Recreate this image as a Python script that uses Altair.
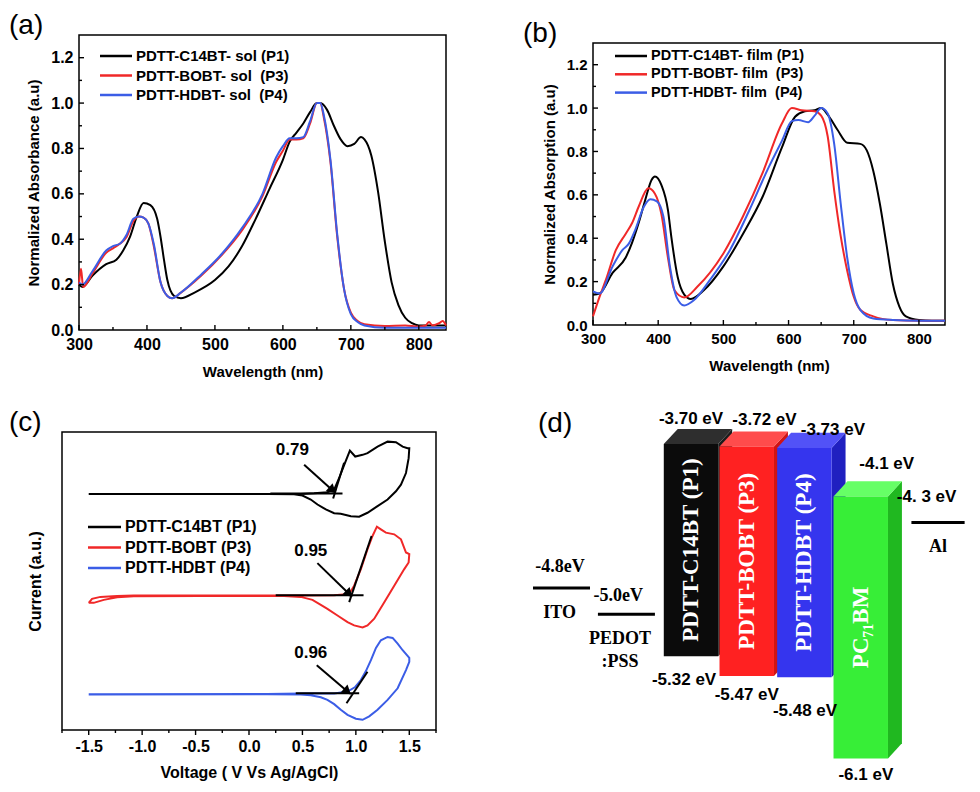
import math
import altair as alt
import pandas as pd

SANS = "Liberation Sans"
SERIF = "Liberation Serif"
LINE_COLORS = ["#000000", "#f02828", "#3b5de6"]

# ---------------- (a) solution spectra ----------------
a_names = ["PDTT-C14BT- sol (P1)", "PDTT-BOBT- sol\u00a0 (P3)", "PDTT-HDBT- sol\u00a0 (P4)"]
a_p1_wl = [300, 305, 320, 340, 355, 365, 375, 385, 395, 405, 415, 420, 425, 430, 440, 450, 470, 500, 520, 540,
           560, 580, 600, 610, 620, 630, 640, 650, 655, 665, 675, 685, 695, 705, 715, 720, 730, 740, 750, 760,
           770, 780, 790, 800, 820, 840]
a_p1_val = [0.20, 0.19, 0.24, 0.29, 0.31, 0.35, 0.41, 0.50, 0.56, 0.55, 0.49, 0.41, 0.31, 0.22, 0.15, 0.14, 0.165, 0.22, 0.28, 0.37,
            0.49, 0.62, 0.75, 0.83, 0.87, 0.91, 0.96, 1.00, 1.00, 0.97, 0.90, 0.84, 0.81, 0.82, 0.85, 0.84, 0.77, 0.61, 0.39, 0.21,
            0.11, 0.054, 0.03, 0.02, 0.02, 0.02]
a_p3_wl = [300, 303, 306, 320, 340, 350, 360, 370, 380, 388, 395, 402, 410, 420, 430, 437, 450, 480, 510, 540,
           570, 590, 600, 610, 620, 630, 640, 650, 655, 660, 670, 680, 690, 700, 710, 720, 750, 780, 800, 810,
           815, 820, 830, 835, 840]
a_p3_val = [0.20, 0.27, 0.19, 0.25, 0.34, 0.36, 0.38, 0.41, 0.48, 0.50, 0.495, 0.47, 0.37, 0.21, 0.15, 0.14, 0.165, 0.24, 0.33, 0.44,
            0.59, 0.74, 0.79, 0.84, 0.84, 0.845, 0.91, 1.00, 1.00, 0.94, 0.74, 0.41, 0.18, 0.076, 0.04, 0.025, 0.018, 0.02, 0.015, 0.02,
            0.035, 0.02, 0.03, 0.04, 0.02]
a_p4_wl = [300, 305, 320, 340, 350, 360, 370, 380, 388, 395, 402, 410, 420, 430, 437, 450, 480, 510, 540, 570,
           590, 600, 610, 620, 630, 640, 650, 655, 660, 670, 680, 690, 700, 710, 720, 750, 800, 840]
a_p4_val = [0.21, 0.20, 0.26, 0.35, 0.37, 0.38, 0.42, 0.49, 0.50, 0.495, 0.47, 0.38, 0.21, 0.15, 0.14, 0.165, 0.245, 0.335, 0.45, 0.60,
            0.76, 0.81, 0.845, 0.845, 0.85, 0.92, 1.00, 1.00, 0.95, 0.75, 0.42, 0.18, 0.07, 0.035, 0.02, 0.01, 0.01, 0.01]

# ---------------- (b) film spectra ----------------
b_names = ["PDTT-C14BT- film (P1)", "PDTT-BOBT- film\u00a0 (P3)", "PDTT-HDBT- film\u00a0 (P4)"]
b_p1_wl = [300, 310, 330, 350, 360, 370, 380, 390, 395, 405, 415, 420, 430, 440, 450, 470, 500, 530, 560, 590,
           610, 625, 640, 650, 660, 675, 690, 710, 720, 730, 740, 750, 760, 770, 780, 800, 820, 840]
b_p1_val = [0.14, 0.145, 0.24, 0.31, 0.38, 0.47, 0.575, 0.67, 0.685, 0.645, 0.53, 0.41, 0.22, 0.14, 0.12, 0.16, 0.27, 0.42, 0.59, 0.82,
            0.96, 0.985, 0.99, 1.00, 0.97, 0.90, 0.84, 0.835, 0.805, 0.71, 0.56, 0.375, 0.19, 0.085, 0.04, 0.023, 0.02, 0.02]
b_p3_wl = [300, 310, 320, 335, 350, 360, 370, 385, 395, 405, 415, 425, 440, 460, 500, 530, 560, 590, 605, 620,
           640, 650, 660, 670, 680, 690, 700, 710, 730, 760, 800, 840]
b_p3_val = [0.04, 0.13, 0.21, 0.345, 0.42, 0.47, 0.545, 0.63, 0.605, 0.51, 0.31, 0.16, 0.127, 0.176, 0.33, 0.50, 0.70, 0.93, 1.00, 0.99,
            0.985, 0.965, 0.87, 0.62, 0.41, 0.25, 0.13, 0.07, 0.04, 0.023, 0.02, 0.02]
b_p4_wl = [300, 310, 330, 345, 355, 365, 378, 388, 398, 408, 418, 428, 440, 455, 480, 510, 540, 570, 590, 605,
           615, 630, 640, 650, 660, 670, 680, 690, 700, 710, 730, 760, 800, 840]
b_p4_val = [0.155, 0.145, 0.27, 0.345, 0.375, 0.44, 0.545, 0.58, 0.57, 0.50, 0.27, 0.13, 0.09, 0.115, 0.21, 0.345, 0.53, 0.73, 0.85, 0.94,
            0.945, 0.935, 0.965, 1.00, 0.975, 0.835, 0.56, 0.31, 0.145, 0.07, 0.03, 0.023, 0.02, 0.02]

# ---------------- (c) cyclic voltammetry ----------------
c_names = ["PDTT-C14BT (P1)", "PDTT-BOBT (P3)", "PDTT-HDBT (P4)"]
c_p1_v = [-1.5, 0.172, 0.484, 0.609, 0.734, 0.797, 0.844, 0.891, 0.944, 0.994, 1.063, 1.109, 1.203, 1.297, 1.375, 1.438, 1.484, 1.5,
          1.494, 1.469, 1.422, 1.375, 1.297, 1.203, 1.109, 1.031, 0.953, 0.859, 0.797, 0.719, 0.641, 0.578, 0.5, 0.422, 0.172, -1.5]
c_p1_i = [23.77, 23.77, 23.77, 23.83, 23.93, 24.2, 25.37, 26.7, 28.13, 27.53, 27.7, 27.87, 28.53, 29.03, 28.97, 28.53, 28.37, 28.37,
          27.37, 25.87, 24.7, 24.03, 23.2, 22.53, 21.87, 21.47, 21.53, 21.77, 21.83, 22.2, 22.7, 23.2, 23.6, 23.73, 23.77, 23.77]
c_p3_v = [-1.5, -1.469, -1.391, -1.234, -1.078, 0.172, 0.484, 0.797, 0.938, 0.984, 1.047, 1.109, 1.156, 1.197, 1.234, 1.281, 1.359,
          1.422, 1.469, 1.5, 1.494, 1.453, 1.359, 1.266, 1.172, 1.109, 1.063, 0.984, 0.922, 0.828, 0.734, 0.672, 0.594, 0.484,
          0.328, -0.453, -1.078, -1.234, -1.359, -1.453, -1.5]
c_p3_i = [12.8, 13.2, 13.4, 13.5, 13.53, 13.53, 13.53, 13.57, 13.7, 14.53, 16.2, 18.2, 19.53, 20.47, 20.2, 19.87, 19.7,
          19.2, 17.87, 17.7, 16.87, 16.2, 14.53, 12.87, 11.2, 10.53, 10.33, 10.53, 10.87, 11.53, 12.2, 12.6, 13.1, 13.4,
          13.5, 13.5, 13.47, 13.37, 13.1, 12.8, 12.8]
c_p4_v = [-1.5, 0.172, 0.484, 0.797, 0.922, 0.994, 1.047, 1.094, 1.141, 1.188, 1.234, 1.297, 1.344, 1.391, 1.438, 1.5,
          1.5, 1.469, 1.391, 1.297, 1.203, 1.125, 1.063, 1.0, 0.922, 0.859, 0.797, 0.734, 0.672, 0.578, 0.484, 0.172, -1.5]
c_p4_i = [3.6, 3.63, 3.67, 3.67, 3.87, 4.33, 5.03, 5.93, 7.03, 8.27, 9.03, 9.37, 9.27, 8.7, 8.03, 7.27,
          6.87, 6.03, 4.2, 3.03, 2.03, 1.37, 1.03, 1.13, 1.53, 2.03, 2.6, 3.03, 3.3, 3.5, 3.57, 3.6, 3.57]
# onset construction lines (start V, start I, end V, end I)
c_tan_v1 = [0.2, 0.7875, 0.25, 0.9375, 0.4375, 0.9125]
c_tan_i1 = [23.8, 23.3, 13.57, 12.87, 3.7, 2.7]
c_tan_v2 = [0.875, 0.89, 1.072, 1.147, 1.031, 1.109]
c_tan_i2 = [23.8, 26.9, 13.57, 19.53, 3.7, 5.87]
c_onset_txt = ["0.79", "0.95", "0.96"]
c_onset_tv = [0.406, 0.578, 0.578]
c_onset_ti = [28.2, 18.03, 7.8]
c_arrow_v1 = [0.516, 0.64, 0.634]
c_arrow_i1 = [26.7, 16.8, 6.53]
c_arrow_v2 = [0.781, 0.9375, 0.922]
c_arrow_i2 = [24.13, 13.7, 3.87]

# ---------------- (d) energy levels ----------------
d_names = ["PDTT-C14BT (P1)", "PDTT-BOBT (P3)", "PDTT-HDBT (P4)", "PC\u2087\u2081BM"]
d_lumo = [-3.70, -3.72, -3.73, -4.1]
d_homo = [-5.32, -5.47, -5.48, -6.1]
d_lumo_txt = ["-3.70 eV", "-3.72 eV", "-3.73 eV", "-4.1 eV"]
d_homo_txt = ["-5.32 eV", "-5.47 eV", "-5.48 eV", "-6.1 eV"]
e_names = ["ITO", "PEDOT\n:PSS", "Al"]
e_level = [-4.8, -5.0, -4.3]
e_txt = ["-4.8eV", "-5.0eV", "-4. 3 eV"]

# layout (panel d, in slot units / eV offsets)
bar_cx = [3.0, 3.88, 4.79, 5.68]
bar_hw = 0.43
depth_x, depth_e = 0.22, 0.115
front_col = ["#0b0b0b", "#ff2121", "#3535ee", "#37ee37"]
top_col = ["#2e2e2e", "#ff4c4c", "#5252f7", "#66ff66"]
side_col = ["#1c1c1c", "#d01414", "#2020c0", "#20b820"]
lumo_dx = [0.0, 0.28, 0.45, 0.41]
lumo_de = [0.19, 0.20, 0.137, 0.25]
homo_dx = [-0.11, 0.0, 0.01, 0.08]
homo_de = [-0.18, -0.146, -0.258, -0.13]
e_cx = [0.955, 1.98, 6.9]
e_hw = [0.45, 0.45, 0.42]
e_txt_dx = [-0.025, -0.13, -0.18]
e_txt_de = [0.16, 0.14, 0.195]
e_name_dx = [-0.03, -0.1, 0.0]

W_A, H_A = 367, 295
W_B, H_B = 352, 282
W_C, H_C = 374, 298
W_D, H_D = 442, 373


def make_axis(values, fmt, title, lab_fs, title_fs, lab_pad, title_pad, label_expr=None):
    kw = dict(values=values, format=fmt, title=title, ticks=False, domain=False, grid=False,
              labelFont=SANS, labelFontWeight="bold", labelFontSize=lab_fs,
              labelColor="black", labelPadding=lab_pad, labelFlush=False, labelOverlap=False,
              titleFont=SANS, titleFontWeight="bold", titleFontSize=title_fs, titleColor="black",
              titlePadding=title_pad)
    if label_expr:
        kw["labelExpr"] = label_expr
    return alt.Axis(**kw)


def letter(t, dx, offset):
    return alt.TitleParams(text=t, anchor="start", frame="group", dx=dx, offset=offset, font=SANS,
                           fontSize=28, fontWeight="normal", color="black")


def x_ticks(field, vals, scale, axis, h, length, outward=False):
    df = pd.DataFrame({field: vals})
    y2 = h + length if outward else h - length
    return alt.Chart(df).mark_rule(color="black", strokeWidth=1.4).encode(
        x=alt.X(f"{field}:Q", scale=scale, axis=axis), y=alt.value(h), y2=alt.value(y2))


def y_ticks(field, vals, scale, axis, length):
    df = pd.DataFrame({field: vals})
    return alt.Chart(df).mark_rule(color="black", strokeWidth=1.4).encode(
        y=alt.Y(f"{field}:Q", scale=scale, axis=axis), x=alt.value(0), x2=alt.value(length))


def legend_rows(names, x0, y0, dy, fs, line_len=32):
    out = []
    for k, name in enumerate(names):
        one = pd.DataFrame({"label": [name]})
        yk = y0 + k * dy
        out.append(alt.Chart(one).mark_rule(color=LINE_COLORS[k], strokeWidth=2.5).encode(
            x=alt.value(x0), x2=alt.value(x0 + line_len), y=alt.value(yk)))
        out.append(alt.Chart(one).mark_text(align="left", baseline="middle", font=SANS, fontWeight="bold",
                                            fontSize=fs, color="black").encode(
            x=alt.value(x0 + line_len + 4), y=alt.value(yk), text="label:N"))
    return out


def spacer():
    return alt.Chart(pd.DataFrame({"s": [0]})).mark_rect(opacity=0).encode(
        x=alt.value(0), x2=alt.value(1), y=alt.value(0), y2=alt.value(1)).properties(
        width=1, height=1, view=alt.ViewBackground(stroke="transparent"))


def spectrum_panel(names, wls, vals, ytitle, w, h, fs_lab, fs_title, fs_leg, leg, title):
    xs = alt.Scale(domain=[300, 840], nice=False, zero=False)
    ys = alt.Scale(domain=[0, 1.3], nice=False, zero=False)
    xax = make_axis([300, 400, 500, 600, 700, 800], "d", "Wavelength (nm)", fs_lab, fs_title, 6, 12)
    yax = make_axis([0, 0.2, 0.4, 0.6, 0.8, 1.0, 1.2], ".1f", ytitle, fs_lab, fs_title, 6, 9)
    layers = []
    for k in range(3):
        df = pd.DataFrame({"wl": wls[k], "val": vals[k]})
        layers.append(alt.Chart(df).mark_line(color=LINE_COLORS[k], strokeWidth=2,
                                              interpolate="monotone").encode(
            x=alt.X("wl:Q", scale=xs, axis=xax), y=alt.Y("val:Q", scale=ys, axis=yax)))
    layers.append(x_ticks("wl", [300, 400, 500, 600, 700, 800], xs, xax, h, 5))
    layers.append(x_ticks("wl", [350, 450, 550, 650, 750], xs, xax, h, 3))
    layers.append(y_ticks("val", [0.2, 0.4, 0.6, 0.8, 1.0, 1.2], ys, yax, 5))
    layers.append(y_ticks("val", [0.1, 0.3, 0.5, 0.7, 0.9, 1.1], ys, yax, 3))
    layers += legend_rows(names, *leg)
    return alt.layer(*layers).properties(width=w, height=h, title=title)


pa = spectrum_panel(a_names, [a_p1_wl, a_p3_wl, a_p4_wl], [a_p1_val, a_p3_val, a_p4_val],
                    "Normalized Absorbance (a.u)", W_A, H_A, 16, 15, 15, (21, 21, 19.5, 15), letter("(a)", -70, -5))
pb = spectrum_panel(b_names, [b_p1_wl, b_p3_wl, b_p4_wl], [b_p1_val, b_p3_val, b_p4_val],
                    "Normalized Absorption (a.u)", W_B, H_B, 15, 15, 14.5, (22, 13, 18.3, 14.5), letter("(b)", -70, -5))

# ---------------- panel (c) ----------------
xs_c = alt.Scale(domain=[-1.75, 1.75], nice=False, zero=False)
ys_c = alt.Scale(domain=[0, 30], nice=False, zero=False)
minus_expr = "datum.value < 0 ? '-' + format(-datum.value, '.1f') : format(datum.value, '.1f')"
xax_c = make_axis([-1.5, -1.0, -0.5, 0.0, 0.5, 1.0, 1.5], ".1f", "Voltage ( V Vs Ag/AgCl)", 16, 16, 8, 10,
                  label_expr=minus_expr)
yax_c = alt.Axis(labels=False, ticks=False, domain=False, grid=False, title="Current (a.u.)", titleFont=SANS,
                 titleFontWeight="bold", titleFontSize=16, titleColor="black", titlePadding=19)
XC = lambda f: alt.X(f, scale=xs_c, axis=xax_c)
YC = lambda f: alt.Y(f, scale=ys_c, axis=yax_c)
c_layers = []
for k, (vv, ii) in enumerate([(c_p1_v, c_p1_i), (c_p3_v, c_p3_i), (c_p4_v, c_p4_i)]):
    df = pd.DataFrame({"v": vv, "cur": ii, "idx": list(range(len(vv)))})
    c_layers.append(alt.Chart(df).mark_line(color=LINE_COLORS[k], strokeWidth=2).encode(
        x=XC("v:Q"), y=YC("cur:Q"), order=alt.Order("idx:Q")))

tan_df = pd.DataFrame({"v": c_tan_v1, "cur": c_tan_i1, "v2": c_tan_v2, "cur2": c_tan_i2})
c_layers.append(alt.Chart(tan_df).mark_rule(color="black", strokeWidth=2).encode(
    x=XC("v:Q"), y=YC("cur:Q"), x2="v2:Q", y2="cur2:Q"))

sx = W_C / 3.5
sy = H_C / 30.0
angles = [math.degrees(math.atan2((c_arrow_i1[j] - c_arrow_i2[j]) * sy, (c_arrow_v2[j] - c_arrow_v1[j]) * sx))
          for j in range(3)]
arr_df = pd.DataFrame({"v": c_arrow_v1, "cur": c_arrow_i1, "v2": c_arrow_v2, "cur2": c_arrow_i2, "ang": angles})
c_layers.append(alt.Chart(arr_df).mark_rule(color="black", strokeWidth=2).encode(
    x=XC("v:Q"), y=YC("cur:Q"), x2="v2:Q", y2="cur2:Q"))
c_layers.append(alt.Chart(arr_df).mark_point(shape="triangle-right", filled=True, size=110, color="black",
                                             opacity=1).encode(
    x=XC("v2:Q"), y=YC("cur2:Q"), angle=alt.Angle("ang:Q", scale=None)))
on_df = pd.DataFrame({"v": c_onset_tv, "cur": c_onset_ti, "t": c_onset_txt})
c_layers.append(alt.Chart(on_df).mark_text(font=SANS, fontWeight="bold", fontSize=17, color="black").encode(
    x=XC("v:Q"), y=YC("cur:Q"), text="t:N"))
c_layers.append(x_ticks("v", [-1.5, -1.0, -0.5, 0.0, 0.5, 1.0, 1.5], xs_c, xax_c, H_C, 5, outward=True))
c_layers.append(x_ticks("v", [-1.75, -1.25, -0.75, -0.25, 0.25, 0.75, 1.25, 1.75], xs_c, xax_c, H_C, 3, outward=True))
c_layers += legend_rows(c_names, 26, 95, 20.5, 16, 33)
pc = alt.layer(*c_layers).properties(width=W_C, height=H_C, title=letter("(c)", -53, -5))

# ---------------- panel (d) ----------------
xs_d = alt.Scale(domain=[0.347, 7.326], nice=False, zero=False)
ys_d = alt.Scale(domain=[-6.280, -3.433], nice=False, zero=False)
X = lambda f: alt.X(f, scale=xs_d, axis=None)
Y = lambda f: alt.Y(f, scale=ys_d, axis=None)

side_rows, top_rows, front_rows = [], [], []
for k in range(4):
    xl, xr = bar_cx[k] - bar_hw, bar_cx[k] + bar_hw
    t, b = d_lumo[k], d_homo[k]
    side_rows += [dict(face=k, x=xr, lo=b, hi=t, col=side_col[k]),
                  dict(face=k, x=xr + depth_x, lo=b + depth_e, hi=t + depth_e, col=side_col[k])]
    top_rows += [dict(face=k, x=xl, lo=t, hi=t, col=top_col[k]),
                 dict(face=k, x=xl + depth_x, lo=t, hi=t + depth_e, col=top_col[k]),
                 dict(face=k, x=xr, lo=t, hi=t + depth_e, col=top_col[k]),
                 dict(face=k, x=xr + depth_x, lo=t + depth_e, hi=t + depth_e, col=top_col[k])]
    front_rows.append(dict(x1=xl, x2=xr, lo=b, hi=t, col=front_col[k], name=d_names[k],
                           mid=(t + b) / 2, cx=bar_cx[k]))

d_layers = []
for rows in (side_rows, top_rows):
    d_layers.append(alt.Chart(pd.DataFrame(rows)).mark_area(interpolate="linear").encode(
        x=X("x:Q"), y=Y("lo:Q"), y2="hi:Q", detail="face:N", color=alt.Color("col:N", scale=None)))
fdf = pd.DataFrame(front_rows)
d_layers.append(alt.Chart(fdf).mark_rect().encode(
    x=X("x1:Q"), x2="x2:Q", y=Y("lo:Q"), y2="hi:Q", color=alt.Color("col:N", scale=None)))
d_layers.append(alt.Chart(fdf).mark_text(angle=270, font=SERIF, fontWeight="bold", fontSize=23,
                                         color="white", baseline="middle", align="center").encode(
    x=X("cx:Q"), y=Y("mid:Q"), text="name:N"))

edf = pd.DataFrame({"x1": [c - w for c, w in zip(e_cx, e_hw)], "x2": [c + w for c, w in zip(e_cx, e_hw)],
                    "e": e_level,
                    "tx": [c + d for c, d in zip(e_cx, e_txt_dx)],
                    "ty": [e + d for e, d in zip(e_level, e_txt_de)], "t": e_txt,
                    "nx": [c + d for c, d in zip(e_cx, e_name_dx)],
                    "ny": [e - 0.12 for e in e_level], "n": e_names})
d_layers.append(alt.Chart(edf).mark_rule(color="black", strokeWidth=3).encode(x=X("x1:Q"), x2="x2:Q", y=Y("e:Q")))
d_layers.append(alt.Chart(edf.iloc[:2]).mark_text(font=SERIF, fontWeight="bold", fontSize=18, color="black").encode(
    x=X("tx:Q"), y=Y("ty:Q"), text="t:N"))
d_layers.append(alt.Chart(edf.iloc[2:]).mark_text(font=SANS, fontWeight="bold", fontSize=17, color="black").encode(
    x=X("tx:Q"), y=Y("ty:Q"), text="t:N"))
d_layers.append(alt.Chart(edf).mark_text(font=SERIF, fontWeight="bold", fontSize=18, color="black",
                                         baseline="top", lineBreak="\n", lineHeight=23).encode(
    x=X("nx:Q"), y=Y("ny:Q"), text="n:N"))

ldf = pd.DataFrame({"x": [c + d for c, d in zip(bar_cx, lumo_dx)], "y": [e + d for e, d in zip(d_lumo, lumo_de)],
                    "t": d_lumo_txt})
hdf = pd.DataFrame({"x": [c + d for c, d in zip(bar_cx, homo_dx)], "y": [e + d for e, d in zip(d_homo, homo_de)],
                    "t": d_homo_txt})
for df in (ldf, hdf):
    d_layers.append(alt.Chart(df).mark_text(font=SANS, fontWeight="bold", fontSize=17, color="black").encode(
        x=X("x:Q"), y=Y("y:Q"), text="t:N"))
d_layers.append(alt.Chart(pd.DataFrame({"t": ["(d)"]})).mark_text(
    font=SANS, fontSize=28, color="black", align="left", baseline="middle").encode(
    x=alt.value(15), y=alt.value(15), text="t:N"))
pd_ = alt.layer(*d_layers).properties(width=W_D, height=H_D,
                                      view=alt.ViewBackground(stroke="transparent"))

cell_a = alt.hconcat(spacer(), pa, spacing=16, bounds="flush")
cell_b = alt.vconcat(spacer(), pb, spacing=7, bounds="flush")

chart = (alt.concat(cell_a, cell_b, pc, pd_, columns=2, align="none",
                    spacing=alt.RowColnumber(row=28, column=71))
         .properties(padding={"top": 3, "left": 0, "right": 0, "bottom": 0})
         .configure(font=SANS)
         .configure_view(stroke="black", strokeWidth=1.5))

chart.save("out.html", embed_options={"renderer": "svg", "actions": False})
